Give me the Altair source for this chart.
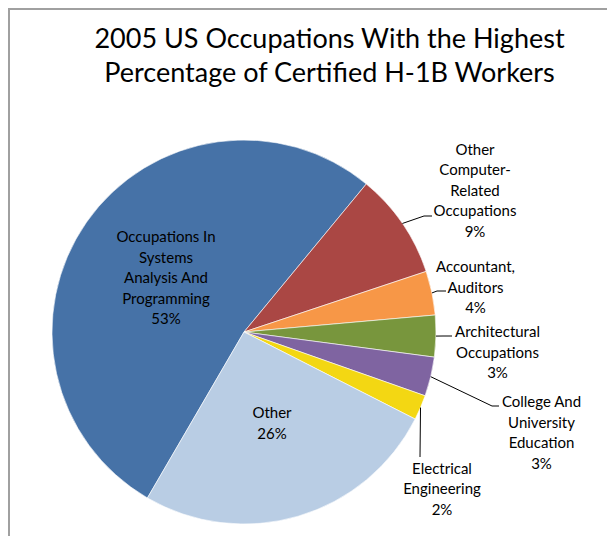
import math
import altair as alt
import pandas as pd

# ---------------- data ----------------
categories = [
    "Occupations In Systems Analysis And Programming",
    "Other Computer-Related Occupations",
    "Accountant, Auditors",
    "Architectural Occupations",
    "College And University Education",
    "Electrical Engineering",
    "Other",
]
shares = [52.6, 8.9, 3.7, 3.5, 3.3, 2.1, 25.9]          # percent of total
label_text = [
    "Occupations In\nSystems\nAnalysis And\nProgramming\n53%",
    "Other\nComputer-\nRelated\nOccupations\n9%",
    "Accountant,\nAuditors\n4%",
    "Architectural\nOccupations\n3%",
    "College And\nUniversity\nEducation\n3%",
    "Electrical\nEngineering\n2%",
    "Other\n26%",
]
title_lines = ["2005 US Occupations With the Highest",
               "Percentage of Certified H-1B Workers"]

# ---------------- styles / layout ----------------
colors = ["#4672A7", "#AA4744", "#F79747", "#78963D", "#7F64A1", "#F3D713", "#B9CDE4"]
W, H = 599, 528
CX, CY, R = 236, 324, 192
START_DEG = -149.8
FONT = "Lato"
LH = 20.5

# label block centres (chart pixels) and leader-line bend points
label_xy = [(158, 270), (467, 182.5), (467.5, 279.5), (489.5, 344.5),
            (533.5, 425), (434, 481), (264, 415.5)]
leader_pts = [None,
              [(416, 208), (424, 208)],
              [(429, 283), (438, 283)],
              [(435, 328), (444, 328)],
              [(484, 398), (491, 398)],
              [(412, 449)],
              None]

df = pd.DataFrame({"cat": categories, "value": shares, "idx": list(range(len(shares)))})

# mid angle of each slice (for leader line start on the rim)
tot = sum(shares)
cum = 0.0
mids = []
for v in shares:
    mids.append(START_DEG + (cum + v / 2) / tot * 360.0)
    cum += v

lines = []
for i, pts in enumerate(leader_pts):
    if not pts:
        continue
    a = math.radians(mids[i])
    sx = CX + R * math.sin(a)
    sy = CY - R * math.cos(a)
    seq = [(sx, sy)] + pts
    for k, (px, py) in enumerate(seq):
        lines.append({"seg": categories[i], "k": k, "px": px, "py": py})
lines_df = pd.DataFrame(lines)

# first-line y so that the whole block is centred on the given point
first_y = [p[1] - (t.count("\n")) * LH / 2 for p, t in zip(label_xy, label_text)]
lab_df = pd.DataFrame({
    "cat": categories,
    "txt": label_text,
    "lx": [p[0] for p in label_xy],
    "ly": first_y,
})

title_df = pd.DataFrame({"t": title_lines, "tx": [321.5, 321.5], "ty": [40, 74]})

a0 = math.radians(START_DEG)
pie = alt.Chart(df).mark_arc(radius=R, stroke="white", strokeWidth=0.6).encode(
    theta=alt.Theta("value:Q", stack=True,
                    scale=alt.Scale(domain=[0, 100], range=[a0, a0 + 2 * math.pi])),
    color=alt.Color("cat:N", scale=alt.Scale(domain=categories, range=colors), legend=None),
    order=alt.Order("idx:Q"),
    x=alt.value(CX),
    y=alt.value(CY),
)

leaders = alt.Chart(lines_df).mark_line(color="#000000", strokeWidth=1).encode(
    x=alt.X("px:Q", scale=None, axis=None),
    y=alt.Y("py:Q", scale=None, axis=None),
    detail="seg:N",
    order="k:Q",
)

labels = alt.Chart(lab_df).mark_text(
    font=FONT, fontSize=15, lineBreak="\n", lineHeight=LH,
    align="center", baseline="middle", color="#000000"
).encode(
    x=alt.X("lx:Q", scale=None, axis=None),
    y=alt.Y("ly:Q", scale=None, axis=None),
    text="txt:N",
)

title = alt.Chart(title_df).mark_text(
    font=FONT, fontSize=27, align="center", baseline="alphabetic", color="#000000"
).encode(
    x=alt.X("tx:Q", scale=None, axis=None),
    y=alt.Y("ty:Q", scale=None, axis=None),
    text="t:N",
)

border_top = alt.Chart(df).mark_rule(color="#A0A0A0", strokeWidth=2).encode(
    x=alt.value(0), x2=alt.value(W), y=alt.value(1))
border_left = alt.Chart(df).mark_rule(color="#A0A0A0", strokeWidth=2).encode(
    x=alt.value(1), y=alt.value(0), y2=alt.value(H))

chart = alt.layer(pie, leaders, labels, title, border_top, border_left).properties(
    width=W, height=H, autosize=alt.AutoSizeParams(type="none"), padding=0,
    background="white",
).configure_view(strokeWidth=0)

chart.save("out.html", embed_options={"renderer": "svg", "actions": False})
